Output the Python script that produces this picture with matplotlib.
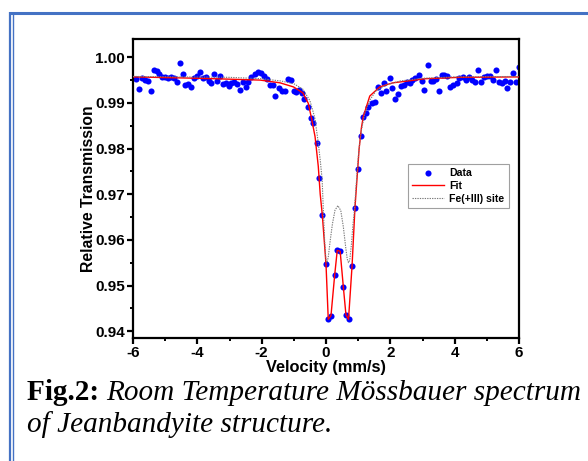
import matplotlib
matplotlib.use("Agg")
import matplotlib.pyplot as plt
from matplotlib.lines import Line2D
from matplotlib.ticker import MultipleLocator, FormatStrFormatter

# Measured Mössbauer spectrum (velocity in mm/s, relative transmission)
velocity = [
    -5.92, -5.81, -5.73, -5.63, -5.54, -5.45, -5.36, -5.26, -5.18, -5.09,
    -5.00, -4.90, -4.82, -4.73, -4.64, -4.55, -4.46, -4.37, -4.28, -4.19,
    -4.10, -4.00, -3.92, -3.83, -3.74, -3.65, -3.56, -3.47, -3.38, -3.29,
    -3.20, -3.11, -3.03, -2.94, -2.85, -2.76, -2.67, -2.58, -2.50, -2.41,
    -2.33, -2.22, -2.12, -2.02, -1.93, -1.82, -1.74, -1.66, -1.57, -1.46,
    -1.38, -1.29, -1.19, -1.10, -1.01, -0.93, -0.84, -0.76, -0.67, -0.57,
    -0.48, -0.395, -0.29, -0.21, -0.115, 0.00, 0.07, 0.155, 0.27, 0.35,
    0.44, 0.54, 0.62, 0.70, 0.81, 0.90, 0.985, 1.08, 1.16, 1.24,
    1.31, 1.42, 1.52, 1.63, 1.71, 1.80, 1.88, 1.98, 2.06, 2.15,
    2.24, 2.34, 2.43, 2.52, 2.60, 2.68, 2.78, 2.88, 2.99, 3.06,
    3.16, 3.25, 3.34, 3.43, 3.52, 3.60, 3.68, 3.76, 3.86, 3.96,
    4.06, 4.15, 4.25, 4.34, 4.44, 4.53, 4.63, 4.72, 4.81, 4.90,
    5.00, 5.09, 5.18, 5.28, 5.37, 5.46, 5.55, 5.64, 5.73, 5.82,
    5.92, 6.00,
]
transmission = [
    0.9952, 0.9931, 0.9954, 0.9951, 0.9948, 0.9926, 0.9973, 0.9970, 0.9963, 0.9956,
    0.9956, 0.9955, 0.9956, 0.9955, 0.9945, 0.9988, 0.9964, 0.9940, 0.9941, 0.9935,
    0.9955, 0.9958, 0.9968, 0.9954, 0.9956, 0.9949, 0.9943, 0.9963, 0.9947, 0.9959,
    0.9942, 0.9943, 0.9938, 0.9943, 0.9946, 0.9942, 0.9928, 0.9946, 0.9934, 0.9945,
    0.9956, 0.9964, 0.9967, 0.9966, 0.9959, 0.9952, 0.9939, 0.9940, 0.9915, 0.9932,
    0.9926, 0.9926, 0.9953, 0.9950, 0.9926, 0.9924, 0.9928, 0.9922, 0.9909, 0.9892,
    0.9866, 0.9855, 0.9812, 0.9735, 0.9655, 0.9547, 0.9426, 0.9434, 0.9523, 0.9577,
    0.9575, 0.9496, 0.9436, 0.9426, 0.9543, 0.9670, 0.9755, 0.9828, 0.9870, 0.9877,
    0.9892, 0.9900, 0.9902, 0.9935, 0.9921, 0.9944, 0.9926, 0.9955, 0.9932, 0.9908,
    0.9919, 0.9937, 0.9939, 0.9946, 0.9943, 0.9950, 0.9955, 0.9962, 0.9948, 0.9928,
    0.9983, 0.9948, 0.9947, 0.9952, 0.9926, 0.9961, 0.9962, 0.9960, 0.9935, 0.9940,
    0.9943, 0.9955, 0.9956, 0.9950, 0.9956, 0.9950, 0.9946, 0.9972, 0.9946, 0.9956,
    0.9958, 0.9959, 0.9950, 0.9972, 0.9946, 0.9943, 0.9949, 0.9932, 0.9946, 0.9966,
    0.9946, 0.9979,
]

# Total fitted envelope
fit_velocity = [
    -6.0, -4.0, -3.0, -2.05, -1.43, -1.01, -0.72, -0.55, -0.45, -0.34,
    -0.24, -0.18, -0.115, 0.00, 0.07, 0.155, 0.27, 0.35, 0.44, 0.54,
    0.62, 0.70, 0.81, 0.90, 0.985, 1.03, 1.10, 1.16, 1.36, 1.67,
    2.08, 3.10, 4.15, 6.0,
]
fit_transmission = [
    0.9957, 0.9954, 0.9952, 0.9950, 0.9944, 0.9935, 0.9922, 0.9899, 0.9866, 0.9826,
    0.9761, 0.9700, 0.9655, 0.9547, 0.9426, 0.9434, 0.9523, 0.9577, 0.9575, 0.9496,
    0.9436, 0.9426, 0.9543, 0.9670, 0.9755, 0.9800, 0.9845, 0.9870, 0.9915, 0.9935,
    0.9944, 0.9953, 0.9956, 0.9957,
]

# Fe(III) doublet sub-spectrum
fe3_velocity = [
    -6.0, -3.0, -2.0, -1.4, -1.0, -0.72, -0.5, -0.35, -0.25, -0.18,
    -0.12, -0.08, -0.04, 0.0, 0.03, 0.07, 0.13, 0.20, 0.28, 0.37,
    0.46, 0.54, 0.61, 0.66, 0.70, 0.74, 0.79, 0.84, 0.88, 0.95,
    1.02, 1.10, 1.20, 1.35, 1.55, 1.85, 2.3, 3.0, 4.0, 6.0,
]
fe3_transmission = [
    0.9958, 0.9956, 0.9953, 0.9948, 0.9942, 0.9930, 0.9905, 0.9868, 0.9818, 0.9775,
    0.9732, 0.9660, 0.9595, 0.9555, 0.9550, 0.9562, 0.9598, 0.9635, 0.9665, 0.9675,
    0.9664, 0.9628, 0.9585, 0.9558, 0.9550, 0.9556, 0.9590, 0.9635, 0.9662, 0.9732,
    0.9795, 0.9840, 0.9875, 0.9905, 0.9926, 0.9939, 0.9948, 0.9954, 0.9957, 0.9958,
]

x_ticks = [-6, -4, -2, 0, 2, 4, 6]
y_ticks = [0.94, 0.95, 0.96, 0.97, 0.98, 0.99, 1.00]

W, H = 588, 461
fig = plt.figure(figsize=(W / 100, H / 100), dpi=100)
fig.patch.set_facecolor("white")

# page frame lines
frame_blue = "#4472C4"
fig.add_artist(Line2D([9 / W, 1.0], [1 - 13.5 / H] * 2, transform=fig.transFigure,
                      color=frame_blue, lw=2.2, solid_capstyle="butt"))
fig.add_artist(Line2D([10 / W] * 2, [0, 1 - 12.5 / H], transform=fig.transFigure,
                      color=frame_blue, lw=1.6, solid_capstyle="butt"))
fig.add_artist(Line2D([13.4 / W] * 2, [0, 1 - 12.5 / H], transform=fig.transFigure,
                      color=frame_blue, lw=1.0, solid_capstyle="butt"))

ax = fig.add_axes([133 / W, 1 - 338 / H, 386 / W, 299 / H])

sans = "Liberation Sans"
h_data, = ax.plot(velocity, transmission, "o", color="#0000FF", ms=4.4, mew=0,
                  label="Data", zorder=2)
h_fit, = ax.plot(fit_velocity, fit_transmission, color="#FF0000", lw=1.0,
                 label="Fit", zorder=3)
h_fe3, = ax.plot(fe3_velocity, fe3_transmission, color="#7a7a7a", lw=0.8,
                 ls=(0, (1.2, 1.0)), label="Fe(+III) site", zorder=4)

ax.set_xlim(-6, 6)
ax.set_ylim(0.9385, 1.0040)
ax.set_xticks(x_ticks)
ax.set_yticks(y_ticks)
ax.xaxis.set_minor_locator(MultipleLocator(1))
ax.yaxis.set_minor_locator(MultipleLocator(0.005))
ax.yaxis.set_major_formatter(FormatStrFormatter("%.2f"))
ax.xaxis.set_major_formatter(FormatStrFormatter("%d"))

for s in ax.spines.values():
    s.set_linewidth(1.6)
ax.tick_params(which="major", direction="out", length=4, width=1.6,
               labelsize=11, pad=2, top=False, right=False)
ax.tick_params(which="minor", direction="out", length=2.2, width=1.4,
               top=False, right=False)
for lab in ax.get_xticklabels() + ax.get_yticklabels():
    lab.set_fontfamily(sans)
    lab.set_fontweight("bold")

ax.set_xlabel("Velocity (mm/s)", fontfamily=sans, fontweight="bold",
              fontsize=11.8, labelpad=0)
ax.set_ylabel("Relative Transmission", fontfamily=sans, fontweight="bold",
              fontsize=11.3, labelpad=-1)

leg = ax.legend(handles=[h_data, h_fit, h_fe3], loc="upper left",
                bbox_to_anchor=((408 - 133) / 386, (338 - 164) / 299),
                borderaxespad=0, numpoints=1, handlelength=3.0,
                handletextpad=0.5, labelspacing=0.25, borderpad=0.4,
                fancybox=False, framealpha=1,
                prop={"family": sans, "weight": "bold", "size": 7.6})
leg.get_frame().set_edgecolor("#a0a0a0")
leg.get_frame().set_linewidth(0.8)

# caption below the chart: bold label followed by italic text
serif = "Liberation Serif"
cap_size = 21.1
fig.canvas.draw()
renderer = fig.canvas.get_renderer()
t1 = fig.text(27 / W, 1 - 400 / H, "Fig.2: ", fontfamily=serif, fontweight="bold",
              fontsize=cap_size, va="baseline", ha="left")
bb = t1.get_window_extent(renderer)
fig.text(bb.x1 / W, 1 - 400 / H, "Room Temperature Mössbauer spectrum",
         fontfamily=serif, fontstyle="italic", fontsize=cap_size,
         va="baseline", ha="left")
fig.text(27 / W, 1 - 432 / H, "of Jeanbandyite structure.", fontfamily=serif,
         fontstyle="italic", fontsize=cap_size, va="baseline", ha="left")

fig.savefig("out.png", dpi=100)
